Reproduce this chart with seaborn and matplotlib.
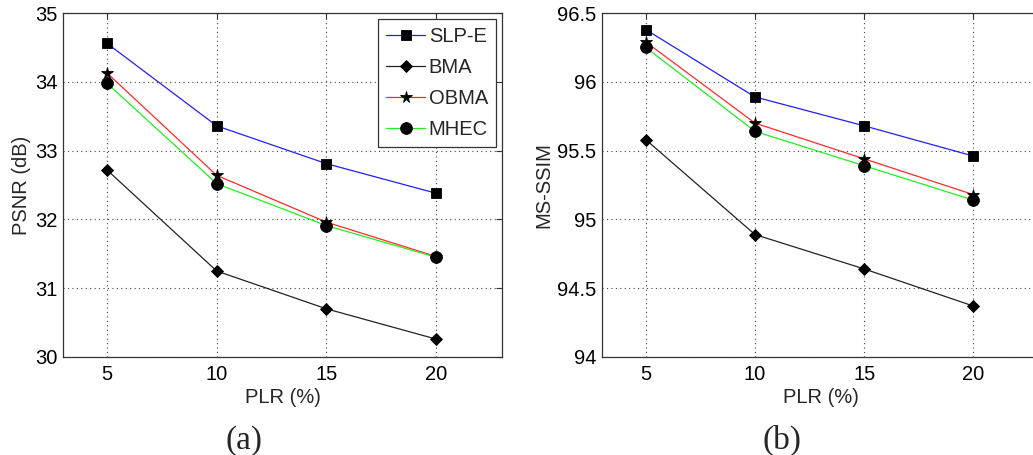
"""PSNR / MS-SSIM vs packet loss rate, two panels (MATLAB look)."""

import matplotlib
matplotlib.use("Agg")
import matplotlib.pyplot as plt
import seaborn as sns

# ── data ──────────────────────────────────────────────────────────────────────
plr = [5, 10, 15, 20]
methods = ["SLP-E", "BMA", "OBMA", "MHEC"]

psnr_slpe = [34.56, 33.36, 32.81, 32.38]
psnr_bma = [32.72, 31.25, 30.70, 30.26]
psnr_obma = [34.13, 32.64, 31.96, 31.46]
psnr_mhec = [33.98, 32.52, 31.91, 31.45]

ssim_slpe = [96.38, 95.89, 95.68, 95.46]
ssim_bma = [95.58, 94.89, 94.64, 94.37]
ssim_obma = [96.29, 95.70, 95.44, 95.18]
ssim_mhec = [96.25, 95.64, 95.39, 95.14]

psnr_ticks = [30, 31, 32, 33, 34, 35]
ssim_ticks = [94, 94.5, 95, 95.5, 96, 96.5]
ssim_ticklabels = ["94", "94.5", "95", "95.5", "96", "96.5"]

# ── style ─────────────────────────────────────────────────────────────────────
COLORS = {"SLP-E": "#1f1fff", "BMA": "#222222", "OBMA": "#ff2a2a", "MHEC": "#22ee22"}
MARKERS = {"SLP-E": "s", "BMA": "D", "OBMA": "*", "MHEC": "o"}
MSIZE = {"SLP-E": 7.5, "BMA": 6.5, "OBMA": 8.5, "MHEC": 8.5}
FS = 14.5

sns.set_theme(style="white")
plt.rcParams.update({
    "font.family": ["Liberation Sans", "DejaVu Sans"],
    "font.size": FS,
    "axes.edgecolor": "#333333", "axes.linewidth": 0.9,
    "xtick.direction": "in", "ytick.direction": "in",
    "xtick.top": True, "ytick.right": True,
    "xtick.major.size": 4, "ytick.major.size": 4,
    "xtick.major.width": 0.8, "ytick.major.width": 0.8,
    "xtick.color": "#333333", "ytick.color": "#333333",
    "xtick.labelcolor": "black", "ytick.labelcolor": "black",
    "xtick.major.pad": 6, "ytick.major.pad": 4,
})

fig = plt.figure(figsize=(10.33, 4.55), dpi=100)
ax1 = fig.add_axes([0.061, 0.2154, 0.425, 0.756])
ax2 = fig.add_axes([0.5828, 0.2154, 0.423, 0.756])


def _panel(ax, series, ylabel, ylim, yticks, yticklabels=None):
    for name, vals in zip(methods, series):
        sns.lineplot(x=plr, y=vals, ax=ax, color=COLORS[name], lw=0.9,
                     marker=MARKERS[name], markersize=MSIZE[name],
                     markerfacecolor="black", markeredgecolor="black",
                     markeredgewidth=0.6, label=name, legend=False)
    ax.set_xlim(3, 23)
    ax.set_ylim(*ylim)
    ax.set_xticks(plr)
    ax.set_yticks(yticks)
    if yticklabels:
        ax.set_yticklabels(yticklabels)
    ax.grid(True, color="#444444", linestyle=(0, (1, 3)), linewidth=0.8)
    ax.set_axisbelow(True)
    ax.set_xlabel("PLR (%)", fontsize=FS, labelpad=3)
    ax.set_ylabel(ylabel, fontsize=FS, labelpad=3)
    ax.tick_params(labelsize=FS)
    for sp in ax.spines.values():
        sp.set_visible(True)


_panel(ax1, [psnr_slpe, psnr_bma, psnr_obma, psnr_mhec], "PSNR (dB)",
       (30, 35), psnr_ticks)
_panel(ax2, [ssim_slpe, ssim_bma, ssim_obma, ssim_mhec], "MS-SSIM",
       (94, 96.5), ssim_ticks, ssim_ticklabels)

leg = ax1.legend(ax1.lines[:4], methods, loc="upper right", fontsize=FS,
                 frameon=True, fancybox=False, framealpha=1,
                 edgecolor="#333333", handlelength=1.9, handletextpad=0.2,
                 labelspacing=0.6, borderpad=0.4, borderaxespad=0.3)
leg.get_frame().set_linewidth(0.9)

fig.text(0.236, 0.032, "(a)", ha="center", va="center", fontsize=24,
         family=["Liberation Serif", "DejaVu Serif"])
fig.text(0.757, 0.032, "(b)", ha="center", va="center", fontsize=24,
         family=["Liberation Serif", "DejaVu Serif"])

fig.savefig("out.png", dpi=100)
